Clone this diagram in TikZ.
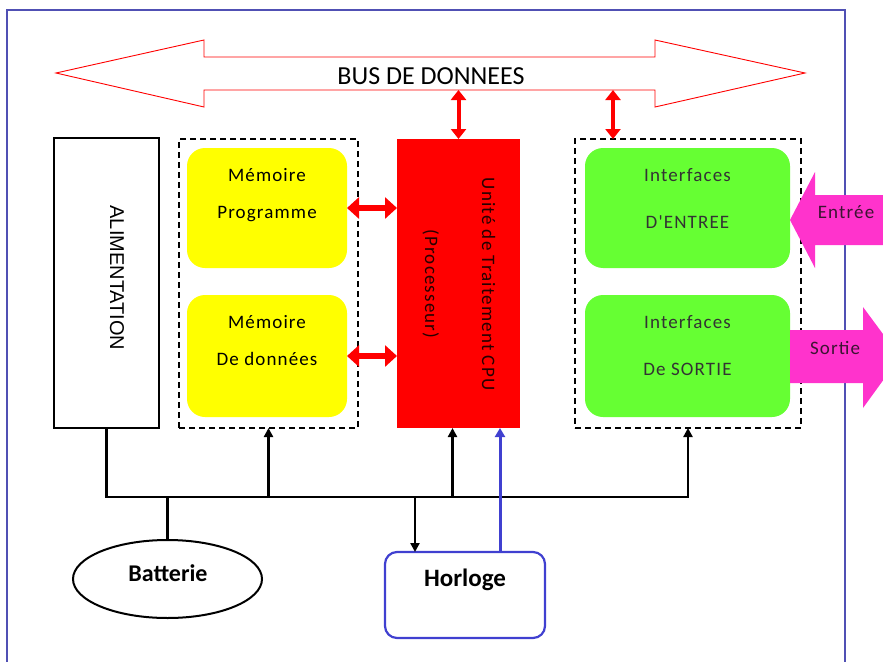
\documentclass[tikz,border=0pt]{standalone}
\usepackage{fontspec}
\setmainfont{Carlito}
\newfontfamily\spaced[LetterSpace=6]{Carlito}
\newfontfamily\arialf{Liberation Sans}
\usetikzlibrary{positioning,arrows.meta,shapes.geometric}

\definecolor{framec}{RGB}{80,80,180}
\definecolor{yel}{RGB}{255,255,0}
\definecolor{grn}{RGB}{102,255,51}
\definecolor{cpured}{RGB}{255,0,0}
\definecolor{mag}{RGB}{255,51,204}
\definecolor{clockb}{RGB}{64,64,208}
\definecolor{magtxt}{RGB}{60,20,50}

\begin{document}
\begin{tikzpicture}[x=1pt, y=-1pt,
    box/.style={rectangle, inner sep=0pt, outer sep=0pt},
    zone/.style={box, draw, dash pattern=on 6pt off 4pt, line width=1.3pt},
    memo/.style={box, fill=yel, rounded corners=18pt, minimum width=160pt},
    io/.style={box, fill=grn, rounded corners=18pt, minimum width=205pt},
    txt/.style={font=\spaced\fontsize{19}{23}\selectfont, align=center, inner sep=0pt},
    wire/.style={line width=2.4pt},
    link/.style={wire, -{Triangle[length=9pt,width=9pt]}},
    busarr/.style={cpured, line width=4pt, {Triangle[length=10pt,width=15pt]}-{Triangle[length=10pt,width=15pt]}},
    memarr/.style={cpured, line width=6pt, {Triangle[length=12pt,width=21pt]}-{Triangle[length=12pt,width=21pt]}}]
      \useasboundingbox (0,0) rectangle (883,661);
      \draw[framec, line width=1.3pt] (7,700) -- (7,10) -- (845,10) -- (845,700); % frame
      %
      \draw[cpured, line width=0.9pt, fill=white] (56,73) -- (204,40) -- (204,57) -- (655,57)
        -- (655,40) -- (805,73) -- (655,107) -- (655,90) -- (204,90) -- (204,107) -- cycle; % bus
      \node[font=\fontsize{26}{30}\selectfont, inner sep=0pt] (bus) at (431,76) {BUS DE DONNEES};
      \coordinate (busbot) at (0,90);
      %
      \node[box, draw, line width=2.8pt, fill=white, minimum width=105pt, minimum height=290pt] (alim) at (106.5,283) {};
      \node[rotate=-90, font=\arialf\fontsize{20}{24}\selectfont, inner sep=0pt] (alimtxt) at (117,278) {ALIMENTATION};
      %
      \node[zone, minimum width=179pt, minimum height=289pt] (memzone) at (268.5,283.5) {}; % memories
      \node[memo, minimum height=120pt] (mprog) at (267,208) {};
      \node[memo, minimum height=122pt] (mdata) at (267,356) {};
      \node[txt, below=20pt of mprog.north] (mprogtxt) {Mémoire\\[14pt]Programme};
      \node[txt, below=20pt of mdata.north] (mdatatxt) {Mémoire\\[14pt]De données};
      %
      \node[box, fill=cpured, minimum width=123pt, minimum height=289pt] (cpu) at (458.5,283.5) {}; % cpu
      \node[txt, rotate=-90, text=black!85!red] (cputxt) at (459,284) {Unité de Traitement CPU\\[34pt](Processeur)};
      %
      \node[zone, minimum width=226pt, minimum height=289pt] (iozone) at (688,283.5) {}; % interfaces
      \node[io, minimum height=120pt] (inbox) at (687.5,208) {};
      \node[io, minimum height=122pt] (outbox) at (687.5,356) {};
      \node[txt, text=black!80, below=20pt of inbox.north] (intxt) {Interfaces\\[24pt]D'ENTREE};
      \node[txt, text=black!80, below=20pt of outbox.north] (outtxt) {Interfaces\\[24pt]De SORTIE};
      %
      \fill[mag] (790,220) -- (815,172) -- (815,195) -- (890,195) -- (890,245) -- (815,245) -- (815,268) -- cycle;
      \node[txt, text=magtxt] (entree) at (846,212) {Entrée};
      \fill[mag] (790,330) -- (863,330) -- (863,307) -- (900,357) -- (863,408) -- (863,383) -- (790,383) -- cycle;
      \node[txt, text=magtxt] (sortie) at (835,348) {Sortie};
      %
      \node[draw, ellipse, line width=2pt, minimum width=189pt, minimum height=78pt, inner sep=0pt] (batt) at (167.5,579) {};
      \node[font=\bfseries\fontsize{24}{30}\selectfont, inner sep=0pt] (batttxt) at (168,573) {Batterie};
      \node[box, draw=clockb, line width=2.2pt, rounded corners=12pt, minimum width=160pt, minimum height=86pt] (clock) at (465,595) {};
      \node[font=\bfseries\fontsize{25}{30}\selectfont, inner sep=0pt] (clocktxt) at (465,580) {Horloge};
      %
      \coordinate (iotop) at ([xshift=-75pt]iozone.north);
      \draw[busarr] (cpu.north |- busbot) -- (cpu.north);   % bus links
      \draw[busarr] (iotop |- busbot) -- (iotop);
      \draw[memarr] (mprog.east) -- (mprog.east -| cpu.west);
      \draw[memarr] (mdata.east) -- (mdata.east -| cpu.west);
      %
      \coordinate (rail) at (0,497);
      \coordinate (cpuin) at ([xshift=-6pt]cpu.south);
      \coordinate (clkin) at ([xshift=41.5pt]cpu.south);
      \coordinate (clkpw) at ([xshift=-50pt]clock.north);
      \draw[link] (alim.south) |- (iozone.south |- rail) -- (iozone.south); % power
      \draw[link] (memzone.south |- rail) -- (memzone.south);
      \draw[link] (cpuin |- rail) -- (cpuin);
      \draw[link] (clkpw |- rail) -- (clkpw);
      \draw[wire] (batt.north) -- (batt.north |- rail);
      \draw[clockb, line width=3pt, -{Triangle[length=9pt,width=10pt]}] (clock.north -| clkin) -- (clkin); % clock
    \end{tikzpicture}
\end{document}
